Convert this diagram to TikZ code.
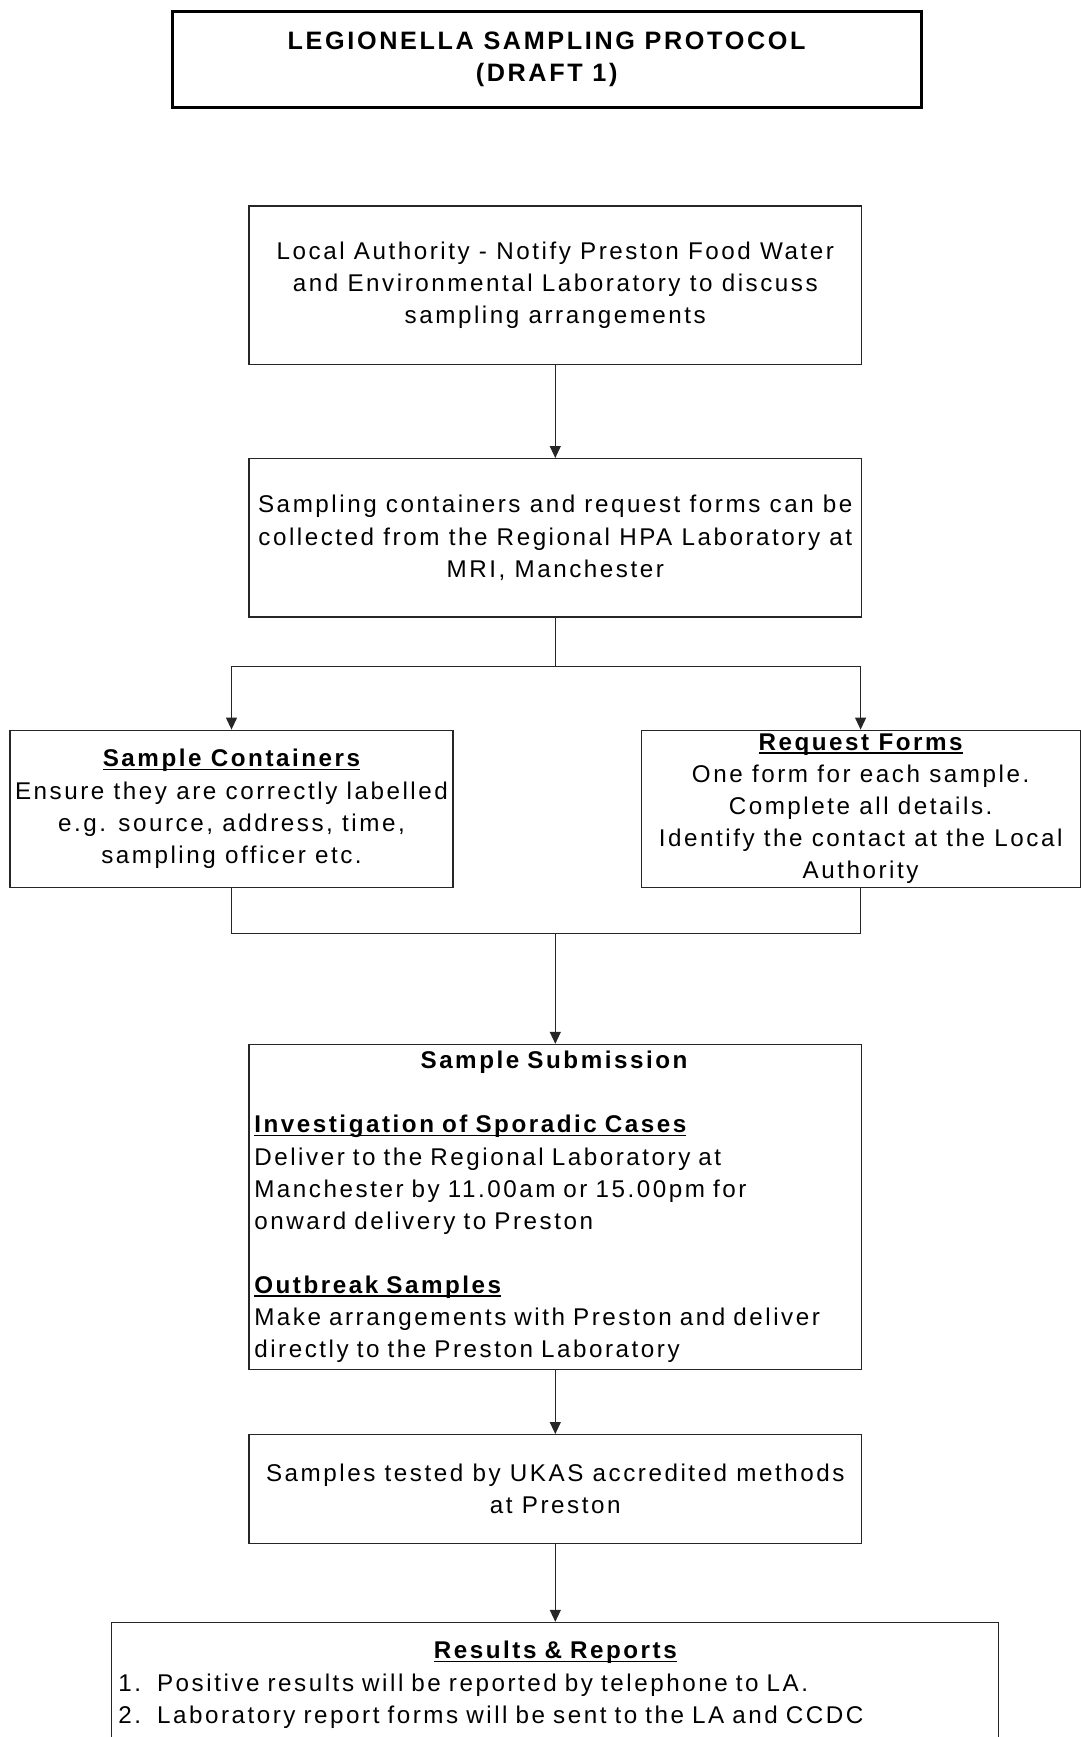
\documentclass[tikz,border=0pt]{standalone}
\usepackage{fontspec}
\setmainfont{Liberation Sans}[LetterSpace=10.5]
\usepackage{tikz}
\usetikzlibrary{arrows.meta, positioning}

% bold heading with a Word-like underline
\newcommand\uhead[1]{\leavevmode\setbox0\hbox{\bfseries #1}\rlap{\rule[-3.5pt]{\wd0}{1.8pt}}\box0}

\tikzset{
  protobox/.style={
    rectangle, draw=black!85, line width=1.2pt, align=center,
    minimum width=612.7pt, minimum height=158.4pt,
    font=\fontsize{24.2}{32.1}\selectfont
  },
  titlebox/.style={
    rectangle, draw=black, line width=3pt, align=center,
    minimum width=749pt, minimum height=95pt,
    font=\fontsize{25.2}{32.1}\selectfont\bfseries
  },
  flow/.style={
    -{Triangle[width=11pt,length=12pt]}, line width=1.2pt, draw=black!85
  },
  link/.style={line width=1.2pt, draw=black!85}
}

\begin{document}
\begin{tikzpicture}[x=1pt, y=1pt]
  \useasboundingbox (0,0) rectangle (1081,-1737);

  % Title
  \node[titlebox] (title) at (546.6,-59.5) {LEGIONELLA SAMPLING PROTOCOL\\(DRAFT 1)};

  % Main column
  \node[protobox] (notify) at (555.3,-285.2) {Local Authority - Notify Preston Food Water\\and Environmental Laboratory to discuss\\sampling arrangements};
  \node[protobox, below=93pt of notify] (collect) {Sampling containers and request forms can be\\collected from the Regional HPA Laboratory at\\MRI, Manchester};

  % Side boxes
  \node[protobox, minimum width=443pt, minimum height=157.3pt, below=112pt of collect, xshift=-323.8pt] (containers)
    {\uhead{Sample Containers}\\Ensure they are correctly labelled\\e.g. source, address, time,\\sampling officer etc.};
  \node[protobox, minimum width=439pt, minimum height=157.3pt, below=112pt of collect, xshift=305.3pt] (forms)
    {\uhead{Request Forms}\\One form for each sample.\\Complete all details.\\Identify the contact at the Local\\Authority};

  \node[protobox, below=426.2pt of collect, minimum height=325pt, text width=602pt, align=left, inner xsep=5pt] (submit)
    {\makebox[\linewidth]{\textbf{Sample Submission}}\\[32.1pt]
     \uhead{Investigation of Sporadic Cases}\\
     Deliver to the Regional Laboratory at\\
     Manchester by 11.00am or 15.00pm for\\
     onward delivery to Preston\\[32.1pt]
     \uhead{Outbreak Samples}\\
     Make arrangements with Preston and deliver\\
     directly to the Preston Laboratory};

  \node[protobox, minimum height=108.6pt, below=64pt of submit] (tested) {Samples tested by UKAS accredited methods\\at Preston};

  \node[protobox, minimum width=887pt, text width=874pt, align=left, inner xsep=6.5pt, inner ysep=19pt,
        text depth=150pt, below=78pt of tested] (results)
    {\makebox[\linewidth]{\uhead{Results \& Reports}}\\
     1.\hspace{16pt}Positive results will be reported by telephone to LA.\\
     2.\hspace{16pt}Laboratory report forms will be sent to the LA and CCDC};

  % Connections
  \coordinate[below=48.5pt of collect.south] (split);
  \coordinate[above=110.3pt of submit.north] (merge);

  \draw[flow] (notify) -- (collect);
  \draw[link] (collect) -- (split);
  \draw[flow] (split) -| (containers);
  \draw[flow] (split) -| (forms);
  \draw[link] (containers) |- (merge);
  \draw[link] (forms) |- (merge);
  \draw[flow] (merge) -- (submit);
  \draw[flow] (submit) -- (tested);
  \draw[flow] (tested) -- (results);

\end{tikzpicture}
\end{document}
